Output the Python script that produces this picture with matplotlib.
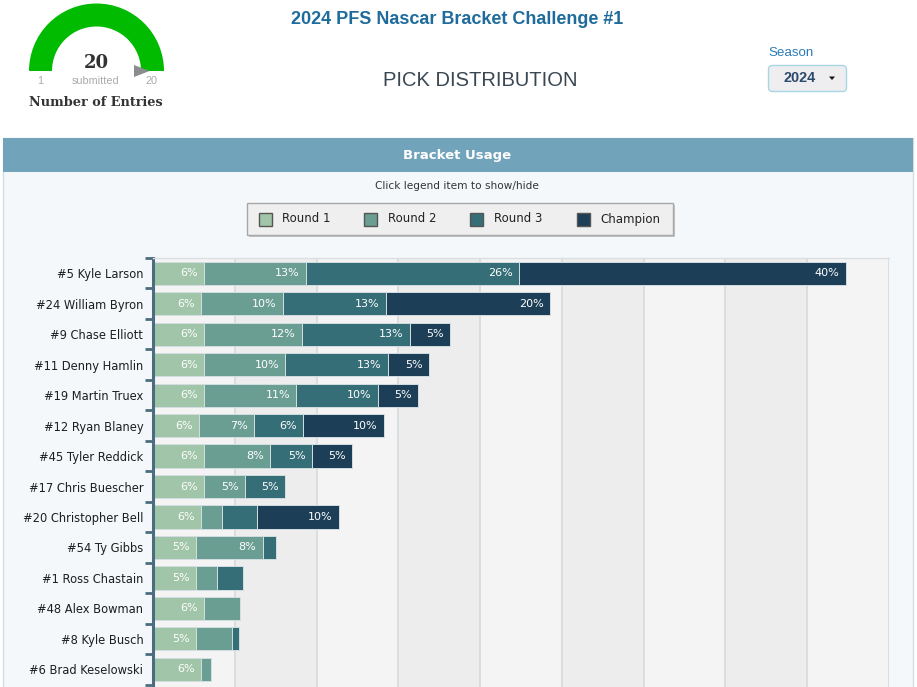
import matplotlib
matplotlib.use("Agg")
import matplotlib.pyplot as plt
from matplotlib.patches import Rectangle, Wedge, Polygon, FancyBboxPatch
import numpy as np

# data (percent of picks per round)
drivers = ["#5 Kyle Larson", "#24 William Byron", "#9 Chase Elliott", "#11 Denny Hamlin",
           "#19 Martin Truex", "#12 Ryan Blaney", "#45 Tyler Reddick", "#17 Chris Buescher",
           "#20 Christopher Bell", "#54 Ty Gibbs", "#1 Ross Chastain", "#48 Alex Bowman",
           "#8 Kyle Busch", "#6 Brad Keselowski"]
round1 = [6.2, 5.9, 6.2, 6.2, 6.2, 5.6, 6.2, 6.2, 5.9, 5.3, 5.3, 6.2, 5.3, 5.9]
round2 = [12.5, 10.0, 12.0, 10.0, 11.3, 6.8, 8.1, 5.0, 2.5, 8.1, 2.5, 4.4, 4.4, 1.2]
round3 = [26.0, 12.6, 13.2, 12.5, 10.0, 5.9, 5.1, 4.9, 4.3, 1.6, 3.2, 0, 0.8, 0]
champion = [40.0, 20.0, 4.9, 5.0, 4.9, 9.9, 4.9, 0, 10.0, 0, 0, 0, 0, 0]
series_names = ["Round 1", "Round 2", "Round 3", "Champion"]
colors = ["#a0c5a8", "#6a9e92", "#366e78", "#1c3f57"]

entries = 20
gauge_min, gauge_max = 1, 20

fig = plt.figure(figsize=(9.17, 6.87), dpi=100)
fig.patch.set_facecolor("white")

# background layer in pixel coords
bg = fig.add_axes([0, 0, 1, 1], zorder=0)
bg.set_xlim(0, 917)
bg.set_ylim(687, 0)
bg.axis("off")

# gauge
bg.add_patch(Wedge((96.5, 71), 67.5, 180, 360, width=23, facecolor="#00bb00", edgecolor="none"))
bg.add_patch(Polygon([(134, 65), (134, 77), (149.5, 71)], closed=True, facecolor="#8b8b90", edgecolor="none"))
bg.text(96, 63, str(entries), ha="center", va="center", fontsize=13, fontweight="bold",
        family="DejaVu Serif", color="#333333")
bg.text(96, 81, "submitted", ha="center", va="center", fontsize=7.8, family="Liberation Sans", color="#aaaaaa")
bg.text(40, 81, str(gauge_min), ha="center", va="center", fontsize=7.8, family="Liberation Sans", color="#aaaaaa")
bg.text(152, 81, str(gauge_max), ha="center", va="center", fontsize=7.8, family="Liberation Sans", color="#aaaaaa")
bg.text(96, 103, "Number of Entries", ha="center", va="center", fontsize=9.3, fontweight="bold",
        family="DejaVu Serif", color="#333333")

# titles
bg.text(457, 19, "2024 PFS Nascar Bracket Challenge #1", ha="center", va="center", fontsize=13,
        fontweight="bold", family="Liberation Sans", color="#1f6c9c")
bg.text(480, 80, "PICK DISTRIBUTION", ha="center", va="center", fontsize=14.5,
        family="Liberation Sans", color="#3a4753")

# season dropdown
bg.text(768, 53, "Season", ha="left", va="center", fontsize=9.6, family="Liberation Sans", color="#2b7bb9")
bg.add_patch(FancyBboxPatch((768.5, 65.5), 78, 26, boxstyle="round,pad=0,rounding_size=4",
                            facecolor="#eeeef0", edgecolor="#a9d6e3", linewidth=1))
bg.text(800, 78, "2024", ha="center", va="center", fontsize=10.4, fontweight="bold",
        family="Liberation Sans", color="#2c4a6b")
bg.add_patch(Polygon([(829, 76.5), (835, 76.5), (832, 80)], closed=True, facecolor="#111111", edgecolor="none"))

# panel
bg.add_patch(Rectangle((2.5, 138), 910, 560, facecolor="#f4f8fb", edgecolor="#d5dde3", linewidth=1))
bg.add_patch(Rectangle((2.5, 138), 910, 34, facecolor="#71a3bb", edgecolor="none"))
bg.text(457, 156, "Bracket Usage", ha="center", va="center", fontsize=9.5, fontweight="bold",
        family="DejaVu Sans", color="white")
bg.text(457, 186, "Click legend item to show/hide", ha="center", va="center", fontsize=7.6,
        family="DejaVu Sans", color="#333333")

# legend box
bg.add_patch(Rectangle((249, 205), 426, 32, facecolor="#c4c4c4", edgecolor="none"))
bg.add_patch(Rectangle((247, 203), 426, 32, facecolor="#efefef", edgecolor="#a8a8a8", linewidth=1))
sq_x = [258.5, 363.5, 470, 577]
txt_x = [282.5, 387.5, 494, 600.5]
for name, c, sx, tx in zip(series_names, colors, sq_x, txt_x):
    bg.add_patch(Rectangle((sx, 212.5), 13, 13, facecolor=c, edgecolor="#555555", linewidth=1))
    bg.text(tx, 219, name, ha="left", va="center", fontsize=8.5, family="DejaVu Sans", color="#222222")

# main chart
ax = fig.add_axes([153 / 917, 0, (889 - 153) / 917, 429 / 687], zorder=1)
ax.set_facecolor("#f4f4f4")
for k in range(1, 9, 2):
    ax.axvspan(k * 10, (k + 1) * 10, color="#ededed", zorder=0, linewidth=0)
ax.set_xlim(0, 90)
ax.set_ylim(13.58, -0.5)
ax.set_xticks(np.arange(10, 91, 10))
ax.xaxis.grid(True, color="#d5dadd", linewidth=1.2, zorder=1)
ax.set_axisbelow(True)
ax.tick_params(axis="x", length=0, labelbottom=False)

y = np.arange(len(drivers))
left = np.zeros(len(drivers))
for name, vals, c in zip(series_names, [round1, round2, round3, champion], colors):
    vals = np.array(vals)
    ax.barh(y, vals, left=left, height=0.76, color=c, edgecolor="#d3dde2", linewidth=0.7, zorder=2)
    for yi, l, v in zip(y, left, vals):
        if v >= 4.5:
            ax.text(l + v - 0.75, yi, f"{int(v + 0.5)}%", ha="right", va="center",
                    fontsize=8, color="white", family="DejaVu Sans", zorder=3)
    left = left + vals

ax.set_yticks(y)
ax.set_yticklabels(drivers, fontsize=8.3, family="DejaVu Sans", color="#1e1e1e")
ax.set_yticks(np.arange(-0.5, len(drivers) + 0.5, 1), minor=True)
ax.tick_params(axis="y", which="major", length=0, pad=7)
ax.tick_params(axis="y", which="minor", length=6, width=2, color="#4b6d7f", direction="out")

for s in ["bottom", "right"]:
    ax.spines[s].set_visible(False)
ax.spines["top"].set_color("#dcdfe2")
ax.spines["top"].set_linewidth(1)
ax.spines["left"].set_color("#4b6d7f")
ax.spines["left"].set_linewidth(2.2)

fig.savefig("out.png", dpi=100)
